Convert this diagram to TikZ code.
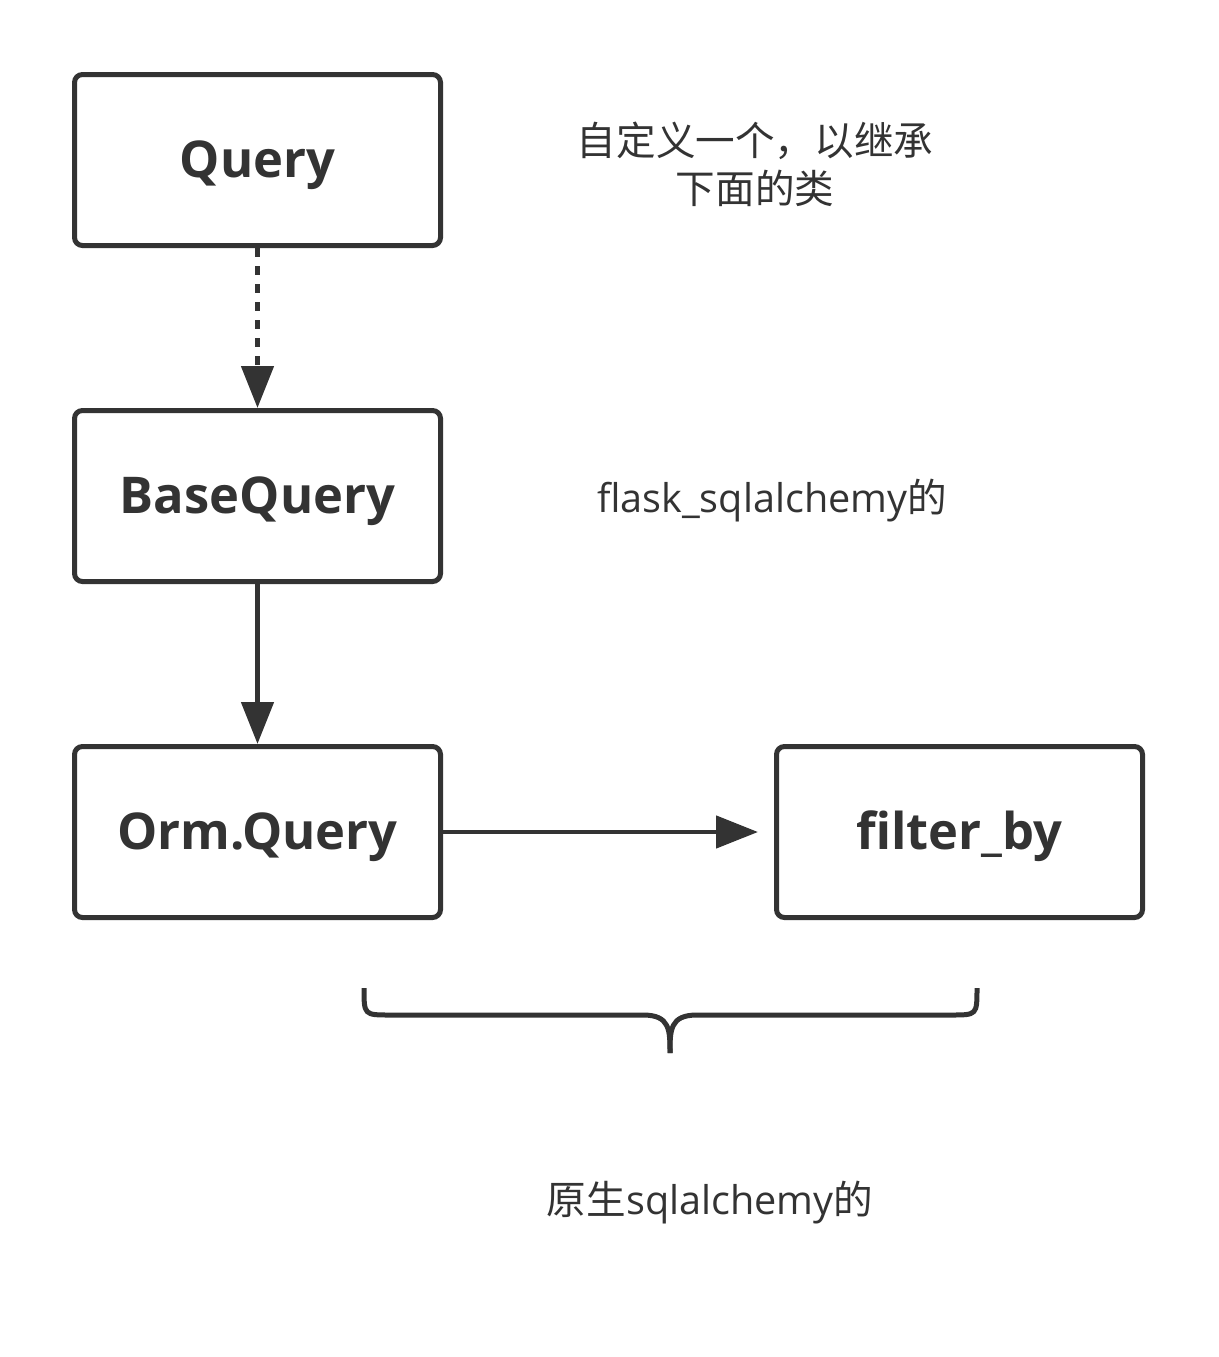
\documentclass[tikz,border=0pt]{standalone}
\usepackage{fontspec}
\setmainfont{Open Sans}
\newfontfamily\cjk{Noto Sans CJK SC}
\usetikzlibrary{arrows.meta}
\definecolor{ink}{HTML}{333333}
\begin{document}
\begin{tikzpicture}[
    x=0.75pt, y=-0.75pt,
    class/.style={draw=ink, line width=3.75pt, rounded corners=6pt, minimum width=274.5pt, minimum height=128.25pt, inner sep=0pt, text height=28pt, text depth=2pt, text=ink, font=\bfseries\fontsize{38}{45}\selectfont},
    note/.style={text=ink, align=center, font=\fontsize{29.7}{36}\selectfont},
    inherit/.style={draw=ink, line width=3.6pt, -{Triangle[length=31.5pt, width=24pt]}},
    brace/.style={draw=ink, line width=3.75pt}
  ]
  \useasboundingbox (0,0) rectangle (1218,1357);

  % Class boxes
  \node[class] (query) at (257.5,160) {Query};
  \node[class] (basequery) at (257.5,496) {BaseQuery};
  \node[class] (ormquery) at (257.5,832) {Orm.Query};
  \node[class] (filterby) at (959.5,832) {filter\_by};

  % Inheritance
  \draw[inherit, dash pattern=on 6.75pt off 6.75pt] (query) -- (basequery);
  \draw[inherit] (basequery) -- (ormquery);
  \draw[inherit, shorten >=12pt] (ormquery) -- (filterby);

  % Notes
  \node[note] (custom) at (755,164) {{\cjk 自定义一个，以继承}\\{\cjk 下面的类}};
  \node[note] (flask) at (772,501) {flask\_sqlalchemy{\cjk 的}};
  \node[note] (native) at (710,1203) {{\cjk 原生}sqlalchemy{\cjk 的}};

  % Brace over the ORM side
  \draw[brace] (364,988) .. controls (364,1015) .. (390,1015) -- (643,1015) .. controls (670,1015) and (670,1030) .. (670,1053);
  \draw[brace] (977,988) .. controls (977,1015) .. (951,1015) -- (697,1015) .. controls (670,1015) and (670,1030) .. (670,1053);

\end{tikzpicture}
\end{document}
